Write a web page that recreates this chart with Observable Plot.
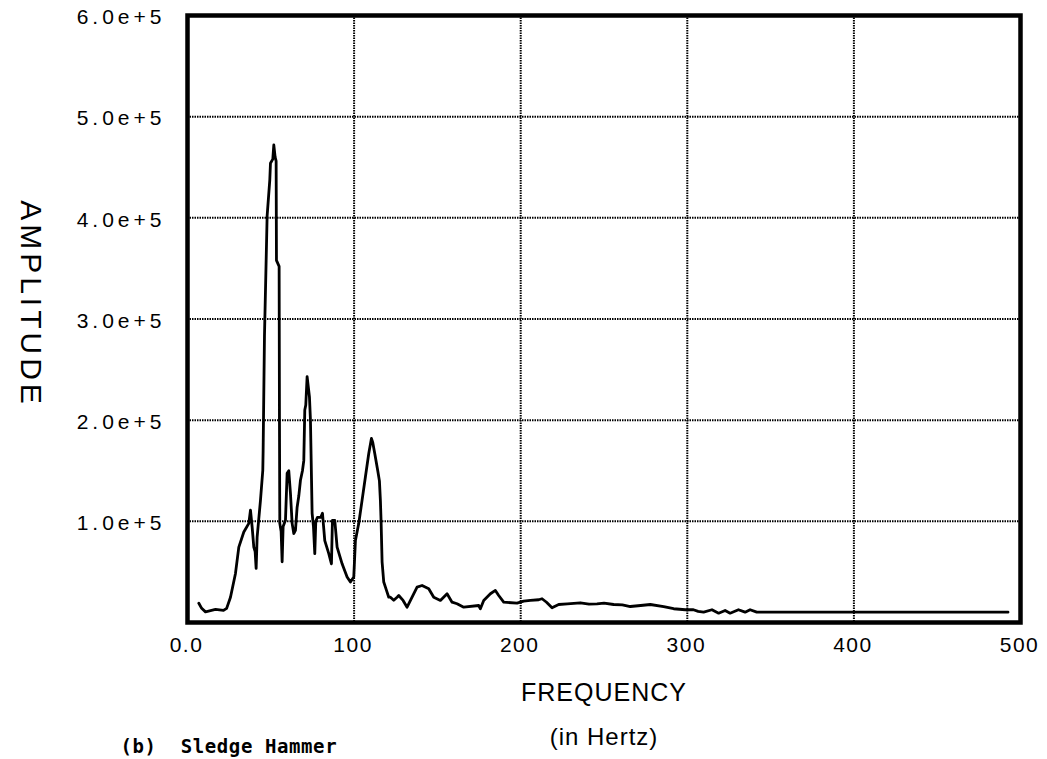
<!DOCTYPE html>
<html>
<head>
<meta charset="utf-8">
<script src="https://cdn.jsdelivr.net/npm/d3@7"></script>
<script src="https://cdn.jsdelivr.net/npm/@observablehq/plot@0.6"></script>
<style>
  html, body { margin: 0; padding: 0; background: #fff; overflow: hidden; }
</style>
</head>
<body>
<div id="chart"></div>
<script>
// Frequency (Hz) and amplitude of the spectrum trace
const freq = [
  6.8, 8.5, 10.8, 16.8, 21.6, 23.5, 25.8, 28.8, 30.8, 33.8,
  36.8, 37.8, 38.8, 39.8, 40.6, 41.2, 41.8, 43.8, 45.2, 45.4,
  46.2, 47.8, 49.4, 49.8, 51.2, 51.8, 52.6, 53.2, 53.4, 55.0,
  55.2, 55.4, 56.2, 56.8, 57.4, 58.8, 59.8, 60.8, 61.8, 62.8,
  63.8, 64.8, 65.8, 66.8, 67.8, 69.0, 69.8, 70.4, 71.0, 71.8,
  73.2, 73.8, 74.8, 75.6, 76.4, 77.0, 78.0, 80.0, 81.0, 82.4,
  84.8, 86.4, 87.0, 88.4, 89.8, 92.8, 95.8, 97.8, 99.8, 100.8,
  102.8, 104.8, 106.8, 108.8, 110.4, 111.2, 112.4, 114.2, 115.2, 115.8,
  116.2, 116.8, 117.8, 119.2, 120.8, 121.8, 123.8, 125.8, 126.8, 129.4,
  131.8, 134.8, 137.8, 140.8, 144.8, 147.8, 151.8, 155.8, 158.8, 161.8,
  165.8, 174.8, 175.8, 177.8, 181.8, 184.8, 186.8, 189.8, 197.8, 201.8,
  205.8, 210.8, 212.8, 215.5, 218.8, 222.8, 228.0, 235.8, 241.0, 245.8,
  250.0, 255.8, 261.0, 265.8, 272.0, 277.8, 285.8, 291.8, 298.8, 303.7,
  306.5, 309.8, 314.8, 318.8, 322.7, 325.7, 330.7, 334.7, 337.7, 341.7,
  492.5
];
const amplitude = [
  19000, 14000, 10500, 12900, 11900, 14000, 25000, 48500, 74500, 89400,
  98000, 111000, 94400, 74500, 70000, 53500, 84500, 120800, 150500, 170000,
  283000, 402000, 437600, 454000, 458000, 472000, 460000, 456000, 358000, 352000,
  200000, 98000, 90000, 60000, 95000, 101000, 147500, 150000, 127700, 98000,
  88000, 91000, 114000, 125000, 140600, 150000, 160000, 210000, 215000, 243000,
  223000, 200000, 108000, 95000, 68000, 100000, 104000, 104000, 108000, 81000,
  68000, 58000, 101000, 101000, 74600, 58000, 45000, 40000, 45000, 81000,
  98000, 121000, 144000, 167000, 182000, 178000, 167000, 150000, 140000, 120000,
  100000, 60000, 40000, 33000, 25000, 25000, 22000, 25000, 26700, 21800,
  15100, 25000, 35000, 36600, 33400, 25000, 21800, 28400, 20100, 18500,
  15100, 16800, 13600, 21800, 28400, 31700, 26700, 20100, 19100, 21100,
  21800, 22500, 23500, 20000, 14500, 17800, 18500, 19500, 18200, 18500,
  19200, 17800, 17500, 15800, 16800, 17800, 15800, 13600, 12600, 12600,
  11000, 10200, 12600, 9200, 11900, 9200, 12600, 10200, 12600, 10200,
  10200
];

const xTicks = [0, 100, 200, 300, 400, 500];
const xTickLabels = ["0.0", "100", "200", "300", "400", "500"];
const yTicks = [100000, 200000, 300000, 400000, 500000, 600000];
const yTickLabels = ["1.0e+5", "2.0e+5", "3.0e+5", "4.0e+5", "5.0e+5", "6.0e+5"];
const xLabel = "FREQUENCY";
const xSubLabel = "(in Hertz)";
const yLabel = "AMPLITUDE";
const caption = "(b)  Sledge Hammer";

const data = freq.map((f, i) => ({f, a: amplitude[i]}));
const font = "'Liberation Sans', Arial, sans-serif";

const chart = Plot.plot({
  width: 1047,
  height: 759,
  marginLeft: 187,
  marginRight: 27,
  marginTop: 15,
  marginBottom: 137,
  x: {domain: [0, 500]},
  y: {domain: [0, 600000]},
  style: {fontFamily: font, background: "#fff", color: "#000", overflow: "visible"},
  marks: [
    Plot.gridX(xTicks.slice(1, -1), {stroke: "#000", strokeOpacity: 1, strokeWidth: 2, strokeDasharray: "1.5,1"}),
    Plot.gridY(yTicks.slice(0, -1), {stroke: "#000", strokeOpacity: 1, strokeWidth: 2, strokeDasharray: "1.5,1"}),
    Plot.line(data, {x: "f", y: "a", stroke: "#000", strokeWidth: 2.8, strokeLinejoin: "round"}),
    Plot.frame({stroke: "#000", strokeWidth: 4.5}),
    Plot.axisX(xTicks, {
      tickSize: 0, tickPadding: 15, fontSize: 21, dx: -1,
      tickFormat: d => xTickLabels[xTicks.indexOf(d)], label: null
    }),
    Plot.axisY(yTicks, {
      tickSize: 0, tickPadding: 22, fontSize: 21, dy: 2,
      tickFormat: d => yTickLabels[yTicks.indexOf(d)], label: null
    }),
    Plot.text([xLabel], {frameAnchor: "bottom", dy: 78, text: d => d, fontSize: 25, fill: "#000"}),
    Plot.text([xSubLabel], {frameAnchor: "bottom", dy: 122, text: d => d, fontSize: 24, fill: "#000"}),
    Plot.text([yLabel], {frameAnchor: "left", textAnchor: "middle", dx: -157, dy: -15, rotate: 90,
      text: d => d, fontSize: 30, fill: "#000"}),
    Plot.text([caption], {frameAnchor: "bottom-left", dx: -67, dy: 130, lineAnchor: "bottom", textAnchor: "start",
      text: d => d, fontSize: 19, fontWeight: "bold", fontFamily: "'DejaVu Sans Mono', monospace", fill: "#000"})
  ]
});

document.getElementById("chart").appendChild(chart);
const spacing = {[xLabel]: "1px", [xSubLabel]: "1px", [yLabel]: "4px", [caption]: "0.6px"};
d3.select(chart).selectAll('g[aria-label="y-axis tick label"] text').attr("letter-spacing", "4px");
d3.select(chart).selectAll('g[aria-label="x-axis tick label"] text').attr("letter-spacing", "1.5px");
d3.select(chart).selectAll('g[aria-label="text"] text').each(function () {
  const t = this.textContent;
  if (t in spacing) this.setAttribute("letter-spacing", spacing[t]);
});
</script>
</body>
</html>
